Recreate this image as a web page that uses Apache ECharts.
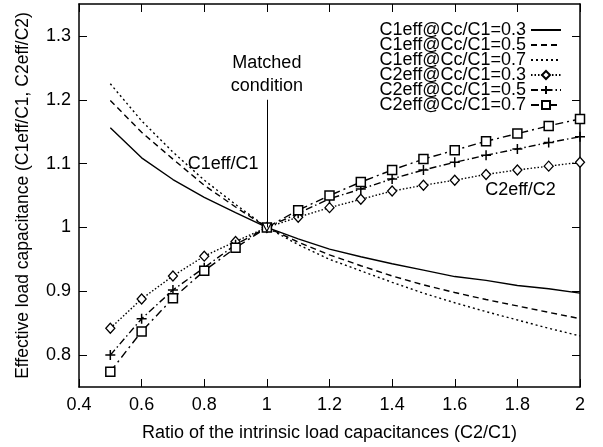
<!DOCTYPE html>
<html>
<head>
<meta charset="utf-8">
<script src="https://cdn.jsdelivr.net/npm/echarts@6/dist/echarts.min.js"></script>
<style>
  html, body { margin: 0; padding: 0; background: #fff; }
  #chart { width: 603px; height: 447px; }
</style>
</head>
<body>
<div id="chart"></div>
<script>
// Ratio of the intrinsic load capacitances C2/C1
const ratios = [0.5, 0.6, 0.7, 0.8, 0.9, 1.0, 1.1, 1.2, 1.3, 1.4, 1.5, 1.6, 1.7, 1.8, 1.9, 2.0];

// C1eff/C1 for three coupling ratios Cc/C1
const c1eff_03 = [1.156, 1.109, 1.075, 1.047, 1.023, 1.0, 0.982, 0.966, 0.954, 0.943, 0.933, 0.923, 0.917, 0.909, 0.904, 0.897];
const c1eff_05 = [1.199, 1.149, 1.107, 1.066, 1.032, 1.0, 0.977, 0.957, 0.940, 0.924, 0.910, 0.898, 0.887, 0.877, 0.867, 0.857];
const c1eff_07 = [1.225, 1.167, 1.118, 1.074, 1.036, 1.0, 0.973, 0.950, 0.932, 0.914, 0.897, 0.882, 0.868, 0.855, 0.842, 0.830];

// C2eff/C2 for the same coupling ratios
const c2eff_03 = [0.842, 0.888, 0.924, 0.955, 0.978, 1.0, 1.016, 1.031, 1.044, 1.057, 1.066, 1.074, 1.083, 1.090, 1.096, 1.102];
const c2eff_05 = [0.800, 0.857, 0.902, 0.937, 0.973, 1.0, 1.022, 1.045, 1.060, 1.076, 1.090, 1.102, 1.113, 1.123, 1.133, 1.142];
const c2eff_07 = [0.774, 0.837, 0.889, 0.932, 0.968, 1.0, 1.027, 1.050, 1.071, 1.090, 1.107, 1.121, 1.135, 1.147, 1.159, 1.170];

const seriesNames = [
  'C1eff@Cc/C1=0.3', 'C1eff@Cc/C1=0.5', 'C1eff@Cc/C1=0.7',
  'C2eff@Cc/C1=0.3', 'C2eff@Cc/C1=0.5', 'C2eff@Cc/C1=0.7'
];

const yTickValues = [0.8, 0.9, 1.0, 1.1, 1.2, 1.3];

// Annotation anchors (data units)
const matchedArrowTop = [1.0, 1.2];
const matchedArrowTip = [1.0, 1.0];
const c1LabelAt = [0.86, 1.10];
const c2LabelAt = [1.81, 1.059];

const FONT = "'Liberation Sans', Arial, Helvetica, sans-serif";
const pairs = arr => ratios.map((x, i) => [x, arr[i]]);

const plusPath = 'path://M0,5L10,5M5,0L5,10';
const openArrow = 'path://M5,0L10,9L9,9.6L5,2.4L1,9.6L0,9Z';

function lineSeries(name, data, dash, extra) {
  return Object.assign({
    name: name,
    type: 'line',
    data: pairs(data),
    symbol: 'none',
    animation: false,
    silent: true,
    lineStyle: { color: '#000', width: 1.4, type: dash },
    itemStyle: { color: '#000' },
    z: 3
  }, extra || {});
}

const chart = echarts.init(document.getElementById('chart'), null, { renderer: 'canvas' });

const tickStyle = { show: true, inside: true, length: 8, lineStyle: { color: '#000', width: 1 } };

// plain line samples in the legend for the curves drawn without markers
const legendData = seriesNames.map((n, i) => i < 3 ? { name: n, itemStyle: { opacity: 0 } } : { name: n });

chart.setOption({
  backgroundColor: '#fff',
  animation: false,
  grid: { left: 79, right: 23, top: 4, bottom: 59, containLabel: false },
  legend: {
    show: true,
    right: 36,
    top: 16,
    orient: 'vertical',
    align: 'right',
    itemWidth: 30,
    itemHeight: 10,
    itemGap: -3,
    selectedMode: false,
    textStyle: { fontFamily: FONT, fontSize: 18, color: '#000' },
    data: legendData
  },
  xAxis: [{
    type: 'value',
    min: 0.4,
    max: 2.0,
    interval: 0.2,
    name: 'Ratio of the intrinsic load capacitances (C2/C1)',
    nameLocation: 'middle',
    nameGap: 37,
    nameTextStyle: { fontFamily: FONT, fontSize: 18, color: '#000' },
    axisLine: { show: true, onZero: false, lineStyle: { color: '#000', width: 1.5 } },
    axisTick: tickStyle,
    axisLabel: { fontFamily: FONT, fontSize: 18, color: '#000', margin: 9 },
    splitLine: { show: false }
  }, {
    type: 'value',
    position: 'top',
    min: 0.4,
    max: 2.0,
    interval: 0.2,
    axisLine: { show: true, onZero: false, lineStyle: { color: '#000', width: 1.5 } },
    axisTick: tickStyle,
    axisLabel: { show: false },
    splitLine: { show: false }
  }],
  yAxis: [{
    type: 'value',
    min: 0.75,
    max: 1.35,
    name: 'Effective load capacitance (C1eff/C1, C2eff/C2)',
    nameLocation: 'middle',
    nameGap: 47,
    nameTextStyle: { fontFamily: FONT, fontSize: 17.5, color: '#000' },
    axisLine: { show: true, onZero: false, lineStyle: { color: '#000', width: 1.5 } },
    axisTick: Object.assign({ customValues: yTickValues }, tickStyle),
    axisLabel: { customValues: yTickValues, fontFamily: FONT, fontSize: 18, color: '#000', margin: 8 },
    splitLine: { show: false }
  }, {
    type: 'value',
    position: 'right',
    min: 0.75,
    max: 1.35,
    axisLine: { show: true, onZero: false, lineStyle: { color: '#000', width: 1.5 } },
    axisTick: Object.assign({ customValues: yTickValues }, tickStyle),
    axisLabel: { show: false },
    splitLine: { show: false }
  }],
  series: [
    lineSeries(seriesNames[0], c1eff_03, 'solid', {
      markLine: {
        silent: true,
        animation: false,
        symbol: ['none', openArrow],
        symbolSize: [10, 10],
        lineStyle: { color: '#000', width: 1, type: 'solid' },
        label: {
          show: true,
          position: 'start',
          distance: 2,
          formatter: 'Matched\ncondition',
          fontFamily: FONT,
          fontSize: 18,
          lineHeight: 23,
          color: '#000'
        },
        data: [[{ coord: matchedArrowTop }, { coord: matchedArrowTip }]]
      },
      markPoint: {
        silent: true,
        animation: false,
        symbol: 'circle',
        symbolSize: 0,
        label: { show: true, position: 'inside', fontFamily: FONT, fontSize: 18, color: '#000', formatter: p => p.name },
        data: [
          { name: 'C1eff/C1', coord: c1LabelAt },
          { name: 'C2eff/C2', coord: c2LabelAt }
        ]
      }
    }),
    lineSeries(seriesNames[1], c1eff_05, [6, 4]),
    lineSeries(seriesNames[2], c1eff_07, [2, 3]),
    lineSeries(seriesNames[3], c2eff_03, [1.5, 2], {
      symbol: 'diamond',
      symbolSize: [9, 10],
      itemStyle: { color: '#fff', borderColor: '#000', borderWidth: 1.3 },
      z: 4
    }),
    lineSeries(seriesNames[4], c2eff_05, [7, 3, 1.5, 3], {
      symbol: plusPath,
      symbolSize: 10,
      itemStyle: { color: 'none', borderColor: '#000', borderWidth: 1.5 },
      z: 4
    }),
    lineSeries(seriesNames[5], c2eff_07, [8, 4, 2, 4], {
      symbol: 'rect',
      symbolSize: 9,
      itemStyle: { color: '#fff', borderColor: '#000', borderWidth: 1.5 },
      z: 4
    })
  ]
});
</script>
</body>
</html>
